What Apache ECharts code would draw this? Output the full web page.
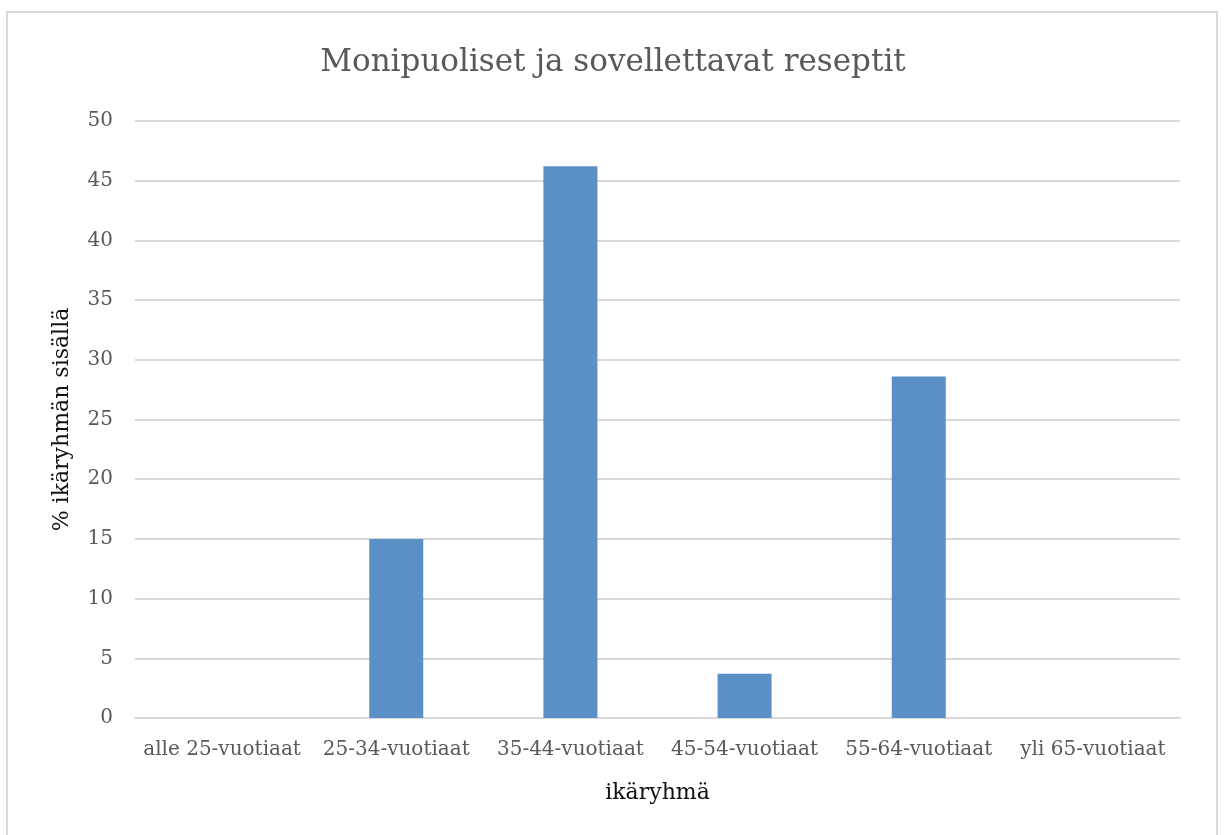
<!DOCTYPE html>
<html>
<head>
<meta charset="utf-8">
<script src="https://cdn.jsdelivr.net/npm/echarts@6/dist/echarts.min.js"></script>
<style>
  html, body { margin: 0; padding: 0; background: #fff; }
  #chart { width: 1226px; height: 835px; }
</style>
</head>
<body>
<div id="chart"></div>
<script>
const categories = ["alle 25-vuotiaat", "25-34-vuotiaat", "35-44-vuotiaat", "45-54-vuotiaat", "55-64-vuotiaat", "yli 65-vuotiaat"];
const values = [0, 15, 46.2, 3.7, 28.6, 0];
const yTicks = { min: 0, max: 50, interval: 5 };

const chart = echarts.init(document.getElementById("chart"));
const font = "'DejaVu Serif', 'Liberation Serif', serif";

chart.setOption({
  animation: false,
  textStyle: { fontFamily: font },
  graphic: [
    {
      type: "rect",
      shape: { x: 7, y: 12, width: 1210, height: 840 },
      style: { fill: "none", stroke: "#d9d9d9", lineWidth: 2 },
    },
  ],
  title: {
    text: "Monipuoliset ja sovellettavat reseptit",
    left: "center",
    top: 42,
    textStyle: { fontFamily: font, fontSize: 31, fontWeight: "normal", color: "#595959" },
  },
  grid: { left: 135, right: 46, top: 121, bottom: 117 },
  xAxis: {
    type: "category",
    data: categories,
    name: "ikäryhmä",
    nameLocation: "middle",
    nameGap: 64,
    nameTextStyle: { fontFamily: font, fontSize: 22, color: "#111" },
    axisLine: { lineStyle: { color: "#d9d9d9", width: 2 } },
    axisTick: { show: false },
    axisLabel: { fontFamily: font, fontSize: 20, color: "#595959", margin: 22, interval: 0 },
  },
  yAxis: {
    type: "value",
    min: yTicks.min,
    max: yTicks.max,
    interval: yTicks.interval,
    name: "% ikäryhmän sisällä",
    nameLocation: "middle",
    nameGap: 62,
    nameTextStyle: { fontFamily: font, fontSize: 22, color: "#111" },
    axisLine: { show: false },
    axisTick: { show: false },
    axisLabel: { fontFamily: font, fontSize: 20, color: "#595959", margin: 22 },
    splitLine: { lineStyle: { color: "#d9d9d9", width: 2 } },
  },
  series: [
    {
      type: "bar",
      data: values,
      barWidth: 54,
      itemStyle: { color: "#5b90c6" },
    },
  ],
});
</script>
</body>
</html>
